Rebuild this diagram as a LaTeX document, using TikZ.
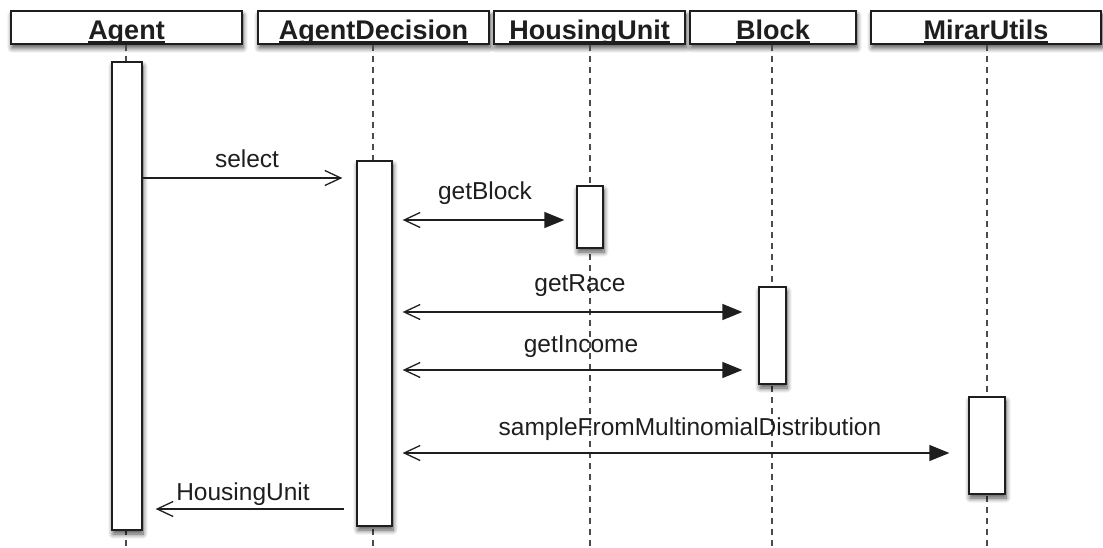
\documentclass[tikz,border=0pt]{standalone}
\usepackage{fontspec}
\setmainfont{Liberation Sans}
\usetikzlibrary{arrows.meta,calc,shadows.blur}
\newcommand\myul[1]{\setbox0\hbox{#1}\rlap{\rule[-2.6pt]{\wd0}{1.4pt}}\box0}
\definecolor{ink}{HTML}{1E1E1E}
\begin{document}
\begin{tikzpicture}[x=1pt,y=-1pt,
  shad/.style={blur shadow={shadow xshift=1pt,shadow yshift=-4pt,shadow blur radius=5pt,shadow opacity=70,shadow blur steps=8}},
  hdr/.style={draw=ink,line width=1.3pt,fill=white,inner sep=0pt,minimum height=33pt,shad},
  htext/.style={anchor=base,inner sep=0pt,text=ink,font=\fontsize{27}{30}\selectfont\bfseries},
  act/.style={draw=ink,line width=1.3pt,fill=white,inner sep=0pt,shad},
  life/.style={draw=ink!80,line width=1.3pt,dash pattern=on 6pt off 5pt},
  msg/.style={draw=ink,line width=1.3pt},
  lbl/.style={anchor=base,inner sep=0pt,text=ink,font=\fontsize{24.5}{28}\selectfont},
  openhead/.tip={Straight Barb[length=16pt,width=15pt,line width=1.3pt]},
  fullhead/.tip={Triangle[length=20pt,width=16pt]}
]
\useasboundingbox (0,0) rectangle (1103,548);

% header boxes
\node[hdr,minimum width=231pt] (hAgent) at (126.5,27.5) {};
\node[hdr,minimum width=231pt] (hDec) at (373.5,27.5) {};
\node[hdr,minimum width=191pt] (hHU) at (589.5,27.5) {};
\node[hdr,minimum width=166pt] (hBlock) at (773,27.5) {};
\node[hdr,minimum width=230pt] (hMirar) at (986,27.5) {};

% lifeline ends
\coordinate (eAgent) at (126,548);
\coordinate (eDec) at (373,548);
\coordinate (eHU) at (590,548);
\coordinate (eBlock) at (772,548);
\coordinate (eMirar) at (987,548);

% lifelines
\draw[life] (hAgent.south -| eAgent) -- (eAgent);
\draw[life] (hDec.south -| eDec) -- (eDec);
\draw[life] (hHU.south -| eHU) -- (eHU);
\draw[life] (hBlock.south -| eBlock) -- (eBlock);
\draw[life] (hMirar.south -| eMirar) -- (eMirar);

% header texts
\node[htext] (tAgent) at (126.5,40) {\myul{Agent}};
\node[htext] (tDec) at (373.5,40) {\myul{AgentDecision}};
\node[htext] (tHU) at (589.5,40) {\myul{HousingUnit}};
\node[htext] (tBlock) at (773,40) {\myul{Block}};
\node[htext] (tMirar) at (986,40) {\myul{MirarUtils}};

% activation boxes
\node[act,minimum width=30pt,minimum height=468pt] (aAgent) at (127,296) {};
\node[act,minimum width=35pt,minimum height=365pt] (aDec) at (374.5,343.5) {};
\node[act,minimum width=26pt,minimum height=62pt] (aHU) at (590,217) {};
\node[act,minimum width=27pt,minimum height=97pt] (aBlock) at (772.5,335.5) {};
\node[act,minimum width=36pt,minimum height=97pt] (aMirar) at (987,445.5) {};

% messages
\draw[msg,-{openhead}] (aAgent.east |- 0,178) -- ($(aDec.west |- 0,178)+(-14,0)$);
\node[lbl] (lSelect) at (247,168) {select};

\draw[msg,{openhead}-{fullhead}] ($(aDec.east |- 0,220)+(10,0)$) -- ($(aHU.west |- 0,220)+(-12,0)$);
\node[lbl] (lBlock) at (485,200) {getBlock};

\draw[msg,{openhead}-{fullhead}] ($(aDec.east |- 0,312)+(10,0)$) -- ($(aBlock.west |- 0,312)+(-16,0)$);
\node[lbl] (lRace) at (580,291) {getRace};

\draw[msg,{openhead}-{fullhead}] ($(aDec.east |- 0,370)+(10,0)$) -- ($(aBlock.west |- 0,370)+(-16,0)$);
\node[lbl] (lIncome) at (581,352) {getIncome};

\draw[msg,{openhead}-{fullhead}] ($(aDec.east |- 0,453)+(10,0)$) -- ($(aMirar.west |- 0,453)+(-19,0)$);
\node[lbl] (lSample) at (690,435) {sampleFromMultinomialDistribution};

\draw[msg,-{openhead}] ($(aDec.west |- 0,509)+(-12,0)$) -- ($(aAgent.east |- 0,509)+(13,0)$);
\node[lbl] (lReturn) at (243,500) {HousingUnit};
\end{tikzpicture}
\end{document}
